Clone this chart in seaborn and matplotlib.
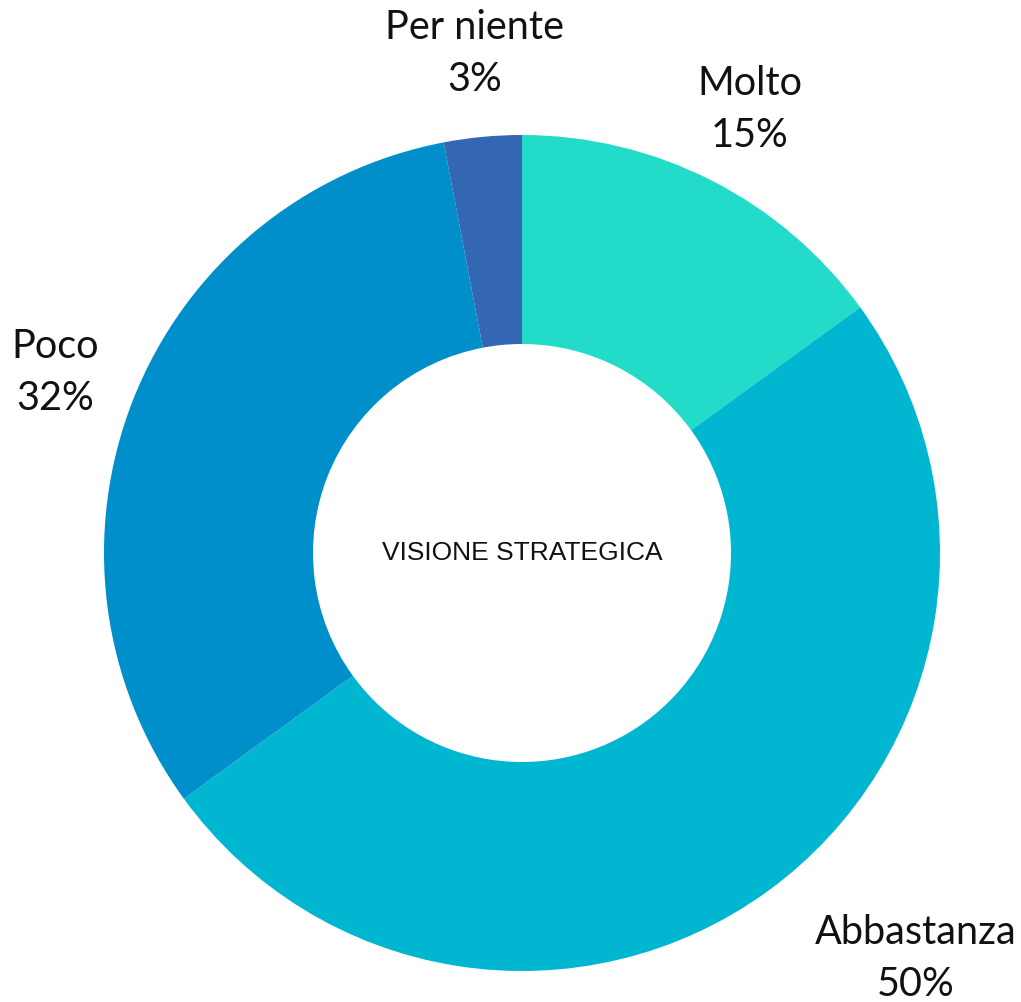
import numpy as np
import matplotlib.pyplot as plt
import seaborn as sns

sns.set_theme(style="white")
plt.rcParams['font.family'] = ['Lato', 'DejaVu Sans']

# Data
categories = ['Molto', 'Abbastanza', 'Poco', 'Per niente']
values = [15, 50, 32, 3]
colors = ['#22dbc8', '#00b6d0', '#008fcb', '#3366b3']
title = 'VISIONE STRATEGICA'

fig = plt.figure(figsize=(10.21, 10.02), dpi=100)
# square axes so the donut sits where it does in the reference
ax = fig.add_axes([104 / 1021, 31 / 1002, 836 / 1021, 836 / 1002])

labels = [f'{c}\n{v}%' for c, v in zip(categories, values)]
wedges, texts = ax.pie(values, labels=labels, colors=colors, startangle=90,
                       counterclock=False, labeldistance=1.2,
                       wedgeprops=dict(width=0.5, linewidth=0),
                       textprops=dict(fontsize=28.5, color='#111111',
                                      ha='center', va='center',
                                      linespacing=1.5))
for t in texts:
    t.set_horizontalalignment('center')
# the big slice's label sits further out in the original
texts[1].set_position((0.943, -0.97))
texts[2].set_position(np.array(texts[2].get_position()) + [0, -0.01])
texts[0].set_position(np.array(texts[0].get_position()) + [0, -0.008])

ax.text(0, 0, title, ha='center', va='center', fontsize=19,
        family=['Liberation Sans', 'DejaVu Sans'], color='#111111')

ax.set_xlim(-1, 1)
ax.set_ylim(-1, 1)
ax.set_aspect('equal')
ax.axis('off')

fig.savefig('out.png', dpi=100)
